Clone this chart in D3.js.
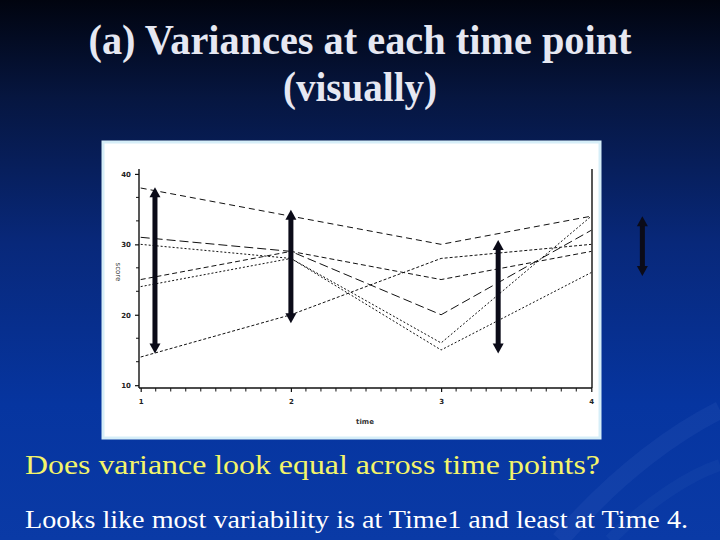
<!DOCTYPE html>
<html>
<head>
<meta charset="utf-8">
<script src="https://cdn.jsdelivr.net/npm/d3@7/dist/d3.min.js"></script>
<style>
  html, body { margin: 0; padding: 0; background: #000; }
  svg { display: block; }
</style>
</head>
<body>
<script>
// ---- data ----
const times = [1, 2, 3, 4];
const xTickLabels = ["1", "2", "3", "4"];
const yTickValues = [10, 20, 30, 40];
const subjectA = [38, 34, 30, 34];
const subjectB = [31, 29, 20, 32];
const subjectC = [30, 28, 16, 34];
const subjectD = [25, 29, 25, 29];
const subjectE = [24, 28, 15, 26];
const subjectF = [14, 20, 28, 30];
const seriesList = [subjectA, subjectB, subjectC, subjectD, subjectE, subjectF];
// spread arrows (time position, low score, high score)
const arrowTimes = [1.095, 2.0, 3.38, 4.34];
const arrowLows  = [14.5, 18.8, 14.5, 25.5];
const arrowHighs = [38.1, 34.9, 30.6, 34.0];

const titleLine1 = "(a) Variances at each time point";
const titleLine2 = "(visually)";
const question = "Does variance look equal across time points?";
const answer = "Looks like most variability is at Time1 and least at Time 4.";

// ---- styles ----
const dashes = ["6,4", "9,4", "2,2", "5,3", "2,2", "3,2"];
const SERIF = "'Liberation Serif', 'Times New Roman', Times, serif";
const SANS = "'DejaVu Sans', sans-serif";

const W = 720, H = 540;
const svg = d3.select("body").append("svg").attr("width", W).attr("height", H);
const defs = svg.append("defs");
const grad = defs.append("linearGradient").attr("id", "bg").attr("x1", 0).attr("y1", 0).attr("x2", 0).attr("y2", 1);
[["0%", "#01040f"], ["18%", "#061640"], ["45%", "#08287a"], ["75%", "#0635a0"], ["100%", "#0a3aa6"]]
  .forEach(([o, c]) => grad.append("stop").attr("offset", o).attr("stop-color", c));
svg.append("rect").attr("width", W).attr("height", H).attr("fill", "url(#bg)");

// faint decorative swooshes bottom-right
const deco = svg.append("g").attr("fill", "none");
deco.append("path").attr("d", "M560,540 C620,470 680,430 720,410").attr("stroke", "rgba(140,170,240,0.07)").attr("stroke-width", 18);
deco.append("path").attr("d", "M610,540 C650,500 690,475 720,465").attr("stroke", "rgba(140,170,240,0.05)").attr("stroke-width", 12);

// titles
svg.append("text").attr("x", 360).attr("y", 54).attr("text-anchor", "middle")
  .style("font-family", SERIF).attr("font-weight", "bold").attr("font-size", 42).attr("fill", "#e6e8f2")
  .attr("textLength", 543).attr("lengthAdjust", "spacingAndGlyphs").text(titleLine1);
svg.append("text").attr("x", 360).attr("y", 101).attr("text-anchor", "middle")
  .style("font-family", SERIF).attr("font-weight", "bold").attr("font-size", 42).attr("fill", "#e6e8f2")
  .attr("textLength", 154).attr("lengthAdjust", "spacingAndGlyphs").text(titleLine2);

// chart image panel
svg.append("rect").attr("x", 103).attr("y", 142).attr("width", 497).attr("height", 296)
  .attr("fill", "#ffffff").attr("stroke", "#d6eef8").attr("stroke-width", 3);

// scales
const x = d3.scaleLinear().domain([1, 4]).range([140.7, 591.3]);
const y = d3.scaleLinear().domain([9.6, 40.7]).range([388, 169]);

const plot = svg.append("g");

// y axis
const yAxis = d3.axisLeft(y).tickValues(yTickValues).tickSize(4).tickFormat(d3.format("d"));
const gy = plot.append("g").attr("transform", "translate(139,0)").call(yAxis);
gy.select(".domain").attr("stroke", "#111").attr("stroke-width", 1.4).attr("d", `M0,${y(9.6)}V${y(40.7)}`);
gy.selectAll(".tick line").attr("stroke", "#111").attr("stroke-width", 1.2);
gy.selectAll(".tick text").style("font-family", SANS).attr("font-weight", "bold")
  .attr("font-size", 7).attr("fill", "#222").attr("x", -8);
const yMinor = d3.range(10, 40, 10).flatMap(v => [v + 10 / 3, v + 20 / 3]);
plot.append("g").selectAll("line").data(yMinor).join("line")
  .attr("x1", 136).attr("x2", 139).attr("y1", d => y(d)).attr("y2", d => y(d))
  .attr("stroke", "#111").attr("stroke-width", 1);

// x axis
const xAxis = d3.axisBottom(x).tickValues(times).tickSize(4).tickFormat((d, i) => xTickLabels[i]);
const gx = plot.append("g").attr("transform", "translate(0,388)").call(xAxis);
gx.select(".domain").attr("stroke", "#111").attr("stroke-width", 1.4).attr("d", "M139,0H592");
gx.selectAll(".tick line").attr("stroke", "#111").attr("stroke-width", 1.2);
gx.selectAll(".tick text").style("font-family", SANS).attr("font-weight", "bold")
  .attr("font-size", 7).attr("fill", "#222").attr("y", 11);
const xMinor = d3.range(1, 4, 0.1).filter(v => Math.abs(v - Math.round(v)) > 0.01);
plot.append("g").selectAll("line").data(xMinor).join("line")
  .attr("x1", d => x(d)).attr("x2", d => x(d)).attr("y1", 388).attr("y2", 391.5)
  .attr("stroke", "#111").attr("stroke-width", 1);

// right frame
plot.append("line").attr("x1", 592).attr("x2", 592).attr("y1", y(40.7)).attr("y2", 388)
  .attr("stroke", "#111").attr("stroke-width", 1.4);

// axis labels
plot.append("text").attr("x", 365).attr("y", 424).attr("text-anchor", "middle")
  .style("font-family", SANS).attr("font-weight", "bold").attr("font-size", 7)
  .attr("fill", "#333").text("time");
plot.append("text").attr("transform", "translate(116,272) rotate(90)").attr("text-anchor", "middle")
  .style("font-family", SANS).attr("font-size", 7)
  .attr("fill", "#333").text("score");

// subject lines
const line = d3.line().x((d, i) => x(times[i])).y(d => y(d));
plot.append("g").selectAll("path").data(seriesList).join("path")
  .attr("d", line).attr("fill", "none").attr("stroke", "#111").attr("stroke-width", 1)
  .attr("stroke-dasharray", (d, i) => dashes[i]);

// spread arrows
const arrowG = svg.append("g");
arrowTimes.forEach((t, i) => {
  const ax = x(t), top = y(arrowHighs[i]), bot = y(arrowLows[i]);
  const g = arrowG.append("g").attr("fill", "#0b0b18").attr("stroke", "none");
  g.append("rect").attr("x", ax - 2.5).attr("y", top + 8).attr("width", 5).attr("height", bot - top - 16);
  g.append("path").attr("d", `M${ax},${top}L${ax - 5.5},${top + 10}L${ax + 5.5},${top + 10}Z`);
  g.append("path").attr("d", `M${ax},${bot}L${ax - 5.5},${bot - 10}L${ax + 5.5},${bot - 10}Z`);
});

// bottom texts
svg.append("text").attr("x", 25).attr("y", 474)
  .style("font-family", SERIF).attr("font-size", 27).attr("fill", "#f4f46a")
  .attr("textLength", 575).attr("lengthAdjust", "spacingAndGlyphs").text(question);
svg.append("text").attr("x", 25).attr("y", 528)
  .style("font-family", SERIF).attr("font-size", 26).attr("fill", "#ffffff")
  .attr("textLength", 663).attr("lengthAdjust", "spacingAndGlyphs").text(answer);
</script>
</body>
</html>
